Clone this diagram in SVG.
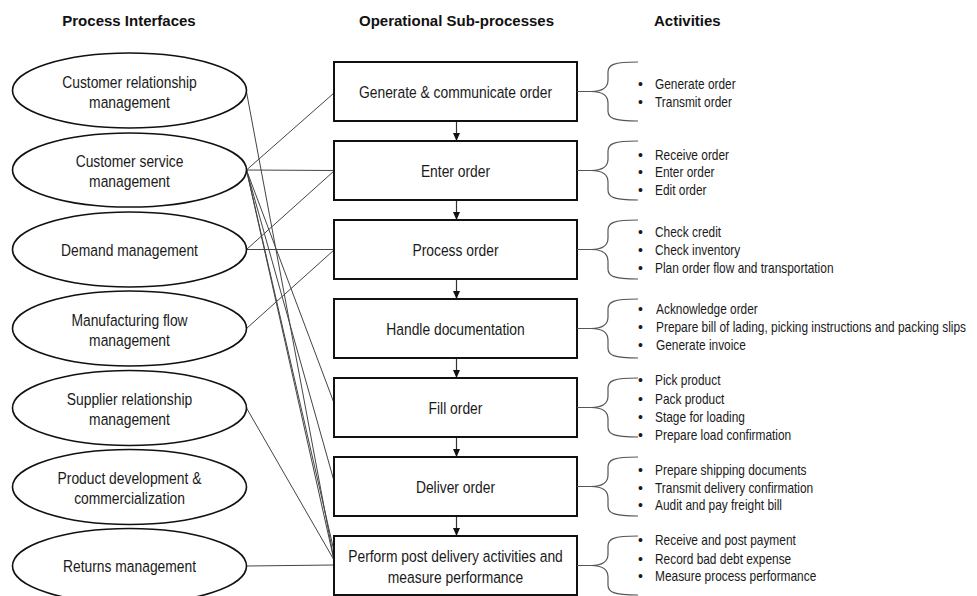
<svg xmlns="http://www.w3.org/2000/svg" width="977" height="596" viewBox="0 0 977 596">
<defs>
<style>
.hdr{font-family:"Liberation Sans",Arial,sans-serif;font-weight:bold;font-size:15px;fill:#111}
.t{font-family:"Liberation Sans",Arial,sans-serif;font-size:16.3px;fill:#1a1a1a;text-anchor:middle}
.a{font-family:"Liberation Sans",Arial,sans-serif;font-size:14px;fill:#1a1a1a}
.ell{fill:#fff;stroke:#111;stroke-width:1.6}
.box{fill:#fff;stroke:#111;stroke-width:2}
.con{stroke:#444;stroke-width:1;fill:none}
.flow{stroke:#333;stroke-width:1.2;fill:none;marker-end:url(#ah)}
.brace{fill:none;stroke:#555;stroke-width:1.2}
</style>
<marker id="ah" markerWidth="8" markerHeight="7" refX="8" refY="3.5" orient="auto" markerUnits="userSpaceOnUse"><path d="M0,0 L8,3.5 L0,7 z" fill="#111"/></marker>
</defs>
<rect width="977" height="596" fill="#fff"/>
<g id="headers">
<text class="hdr" x="129" y="26" text-anchor="middle">Process Interfaces</text>
<text class="hdr" x="456.5" y="26" text-anchor="middle">Operational Sub-processes</text>
<text class="hdr" x="654" y="26">Activities</text>
</g>
<g id="connectors">
<path class="con" d="M246.5,92 L334,560"/>
<path class="con" d="M246.5,170 L334,93"/>
<path class="con" d="M246.5,170 L334,170.5"/>
<path class="con" d="M246.5,170 L334,403"/>
<path class="con" d="M246.5,170 L334,481"/>
<path class="con" d="M246.5,170 L334,560"/>
<path class="con" d="M246.5,170 L334,551"/>
<path class="con" d="M246.5,249.5 L334,171"/>
<path class="con" d="M246.5,249.5 L334,249.5"/>
<path class="con" d="M246.5,328.5 L334,250"/>
<path class="con" d="M246.5,408 L334,560"/>
<path class="con" d="M246.5,566 L334,565"/>
<path class="flow" d="M456.5,121 V141"/>
<path class="flow" d="M456.5,200 V220"/>
<path class="flow" d="M456.5,279 V299"/>
<path class="flow" d="M456.5,358 V378"/>
<path class="flow" d="M456.5,437 V457"/>
<path class="flow" d="M456.5,516 V536"/>
</g>
<g id="interfaces">
<g id="crm"><ellipse class="ell" cx="129.5" cy="90.5" rx="117" ry="37.5"/><text class="t" transform="translate(129.5,88) scale(0.85,1)">Customer relationship</text><text class="t" transform="translate(129.5,108) scale(0.85,1)">management</text></g>
<g id="csm"><ellipse class="ell" cx="129.5" cy="170" rx="117" ry="37"/><text class="t" transform="translate(129.5,167) scale(0.85,1)">Customer service</text><text class="t" transform="translate(129.5,187) scale(0.85,1)">management</text></g>
<g id="dm"><ellipse class="ell" cx="129.5" cy="249.5" rx="117" ry="37.5"/><text class="t" transform="translate(129.5,256) scale(0.85,1)">Demand management</text></g>
<g id="mfm"><ellipse class="ell" cx="129.5" cy="328.5" rx="117" ry="37.5"/><text class="t" transform="translate(129.5,325.5) scale(0.85,1)">Manufacturing flow</text><text class="t" transform="translate(129.5,345.5) scale(0.85,1)">management</text></g>
<g id="srm"><ellipse class="ell" cx="129.5" cy="408" rx="117" ry="37.5"/><text class="t" transform="translate(129.5,405) scale(0.85,1)">Supplier relationship</text><text class="t" transform="translate(129.5,425) scale(0.85,1)">management</text></g>
<g id="pdc"><ellipse class="ell" cx="129.5" cy="487" rx="117" ry="37.5"/><text class="t" transform="translate(129.5,484) scale(0.85,1)">Product development &amp;</text><text class="t" transform="translate(129.5,504) scale(0.85,1)">commercialization</text></g>
<g id="rm"><ellipse class="ell" cx="129.5" cy="566" rx="117" ry="37.5"/><text class="t" transform="translate(129.5,572) scale(0.85,1)">Returns management</text></g>
</g>
<g id="subprocesses">
<g id="s1"><rect class="box" x="334" y="62" width="243" height="59"/><text class="t" transform="translate(455.5,98) scale(0.85,1)">Generate &amp; communicate order</text></g>
<g id="s2"><rect class="box" x="334" y="141" width="243" height="59"/><text class="t" transform="translate(455.5,177) scale(0.85,1)">Enter order</text></g>
<g id="s3"><rect class="box" x="334" y="220" width="243" height="59"/><text class="t" transform="translate(455.5,256) scale(0.85,1)">Process order</text></g>
<g id="s4"><rect class="box" x="334" y="299" width="243" height="59"/><text class="t" transform="translate(455.5,335) scale(0.85,1)">Handle documentation</text></g>
<g id="s5"><rect class="box" x="334" y="378" width="243" height="59"/><text class="t" transform="translate(455.5,414) scale(0.85,1)">Fill order</text></g>
<g id="s6"><rect class="box" x="334" y="457" width="243" height="59"/><text class="t" transform="translate(455.5,493) scale(0.85,1)">Deliver order</text></g>
<g id="s7"><rect class="box" x="334" y="536" width="243" height="59"/><text class="t" transform="translate(455.5,561.5) scale(0.85,1)">Perform post delivery activities and</text><text class="t" transform="translate(455.5,582.5) scale(0.85,1)">measure performance</text></g>
</g>
<g id="activities">
<g id="a1"><path class="brace" d="M577,91.5 H591 C602,91.5 608,88 608,80 V72 C608,65 613,62 638,62 M591,91.5 C602,91.5 608,95 608,103 V111 C608,118 613,121 638,121"/>
<text class="a" x="638" y="88.5">•</text><text class="a" transform="translate(655,88.5) scale(0.85,1)">Generate order</text>
<text class="a" x="638" y="106.5">•</text><text class="a" transform="translate(655,106.5) scale(0.85,1)">Transmit order</text></g>
<g id="a2"><path class="brace" d="M577,170.5 H591 C602,170.5 608,167 608,159 V151 C608,144 613,141 638,141 M591,170.5 C602,170.5 608,174 608,182 V190 C608,197 613,200 638,200"/>
<text class="a" x="638" y="159.5">•</text><text class="a" transform="translate(655,159.5) scale(0.85,1)">Receive order</text>
<text class="a" x="638" y="177">•</text><text class="a" transform="translate(655,177) scale(0.85,1)">Enter order</text>
<text class="a" x="638" y="194.5">•</text><text class="a" transform="translate(655,194.5) scale(0.85,1)">Edit order</text></g>
<g id="a3"><path class="brace" d="M577,249.5 H591 C602,249.5 608,246 608,238 V230 C608,223 613,220 638,220 M591,249.5 C602,249.5 608,253 608,261 V269 C608,276 613,279 638,279"/>
<text class="a" x="638" y="237">•</text><text class="a" transform="translate(655,237) scale(0.85,1)">Check credit</text>
<text class="a" x="638" y="255">•</text><text class="a" transform="translate(655,255) scale(0.85,1)">Check inventory</text>
<text class="a" x="638" y="272.5">•</text><text class="a" transform="translate(655,272.5) scale(0.85,1)">Plan order flow and transportation</text></g>
<g id="a4"><path class="brace" d="M577,328.5 H591 C602,328.5 608,325 608,317 V309 C608,302 613,299 638,299 M591,328.5 C602,328.5 608,332 608,340 V348 C608,355 613,358 638,358"/>
<text class="a" x="638" y="313.5">•</text><text class="a" transform="translate(656,313.5) scale(0.85,1)">Acknowledge order</text>
<text class="a" x="638" y="331.5">•</text><text class="a" transform="translate(656,331.5) scale(0.85,1)">Prepare bill of lading, picking instructions and packing slips</text>
<text class="a" x="638" y="350">•</text><text class="a" transform="translate(656,350) scale(0.85,1)">Generate invoice</text></g>
<g id="a5"><path class="brace" d="M577,407.5 H591 C602,407.5 608,404 608,396 V388 C608,381 613,378 638,378 M591,407.5 C602,407.5 608,411 608,419 V427 C608,434 613,437 638,437"/>
<text class="a" x="638" y="385">•</text><text class="a" transform="translate(655,385) scale(0.85,1)">Pick product</text>
<text class="a" x="638" y="403.5">•</text><text class="a" transform="translate(655,403.5) scale(0.85,1)">Pack product</text>
<text class="a" x="638" y="421.5">•</text><text class="a" transform="translate(655,421.5) scale(0.85,1)">Stage for loading</text>
<text class="a" x="638" y="439.5">•</text><text class="a" transform="translate(655,439.5) scale(0.85,1)">Prepare load confirmation</text></g>
<g id="a6"><path class="brace" d="M577,486.5 H591 C602,486.5 608,483 608,475 V467 C608,460 613,457 638,457 M591,486.5 C602,486.5 608,490 608,498 V506 C608,513 613,516 638,516"/>
<text class="a" x="638" y="475">•</text><text class="a" transform="translate(655,475) scale(0.85,1)">Prepare shipping documents</text>
<text class="a" x="638" y="492.5">•</text><text class="a" transform="translate(655,492.5) scale(0.85,1)">Transmit delivery confirmation</text>
<text class="a" x="638" y="510">•</text><text class="a" transform="translate(655,510) scale(0.85,1)">Audit and pay freight bill</text></g>
<g id="a7"><path class="brace" d="M577,565.5 H591 C602,565.5 608,562 608,554 V546 C608,539 613,536 638,536 M591,565.5 C602,565.5 608,569 608,577 V585 C608,592 613,595 638,595"/>
<text class="a" x="638" y="545">•</text><text class="a" transform="translate(655,545) scale(0.85,1)">Receive and post payment</text>
<text class="a" x="638" y="563.5">•</text><text class="a" transform="translate(655,563.5) scale(0.85,1)">Record bad debt expense</text>
<text class="a" x="638" y="581">•</text><text class="a" transform="translate(655,581) scale(0.85,1)">Measure process performance</text></g>
</g>
</svg>
